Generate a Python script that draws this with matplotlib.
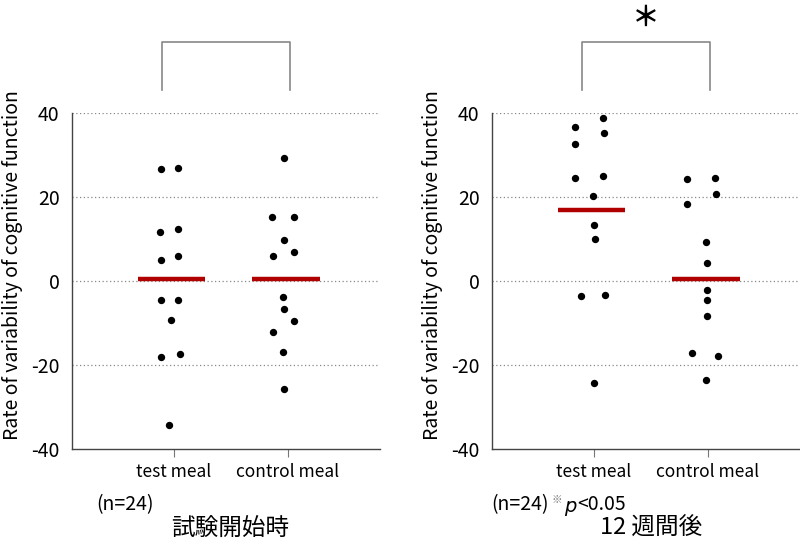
import numpy as np
import matplotlib
matplotlib.use('Agg')
import matplotlib.pyplot as plt

plt.rcParams['font.family'] = ['Noto Sans CJK JP', 'DejaVu Sans']

categories = ['test meal', 'control meal']
ylabel = 'Rate of variability of cognitive function'

# baseline (試験開始時)
base_test = [26.6, 27.0, 11.7, 12.3, 5.1, 5.9, -4.6, -4.6, -9.2, -18.2, -17.4, -34.3]
base_test_dx = [-0.108, 0.038, -0.120, 0.038, -0.108, 0.038, -0.108, 0.038, -0.026, -0.108, 0.053, -0.041]
base_ctrl = [29.2, 15.2, 15.2, 9.7, 5.9, 6.8, -3.8, -6.7, -9.5, -12.2, -16.9, -25.8]
base_ctrl_dx = [-0.032, -0.138, 0.059, -0.032, -0.125, 0.059, -0.044, -0.032, 0.059, -0.125, -0.044, -0.032]
base_means = [0.5, 0.5]

# 12 weeks (12 週間後)
wk12_test = [36.6, 38.7, 35.2, 32.7, 24.6, 25.0, 20.3, 13.3, 9.9, -3.5, -3.4, -24.2]
wk12_test_dx = [-0.164, 0.082, 0.090, -0.164, -0.161, 0.082, -0.003, 0.006, 0.011, -0.114, 0.103, 0.003]
wk12_ctrl = [24.3, 24.6, 20.6, 18.3, 9.3, 4.2, -2.1, -4.5, -8.4, -17.2, -17.9, -23.6]
wk12_ctrl_dx = [-0.182, 0.064, 0.076, -0.182, -0.015, -0.006, -0.006, -0.006, -0.006, -0.140, 0.094, -0.011]
wk12_means = [17.0, 0.5]

W, H = 800, 544
fig = plt.figure(figsize=(W / 100, H / 100), dpi=100)

def px(x, y):
    # pixel position -> figure fraction
    return x / W, 1 - y / H

def panel(x0, groups, means):
    ax = fig.add_axes([x0 / W, (H - 449) / H, 308 / W, 336 / H])
    ax.set_xlim(-0.89, 1.81)
    ax.set_ylim(-40, 40)
    ax.set_yticks([-40, -20, 0, 20, 40])
    ax.set_yticklabels(['-40', '-20', '0', '20', '40'], fontsize=14)
    ax.tick_params(axis='y', length=0, pad=9)
    ax.set_xticks([0, 1])
    ax.set_xticklabels(categories, fontsize=12.5)
    ax.tick_params(axis='x', length=6, color='#777', pad=4)
    for y in [-20, 0, 20, 40]:
        ax.axhline(y, color='#888', lw=0.9, ls=(0, (1, 2)), zorder=0)
    for s in ['top', 'right']:
        ax.spines[s].set_visible(False)
    for s in ['left', 'bottom']:
        ax.spines[s].set_color('#444')
        ax.spines[s].set_linewidth(1.0)
    for i, (vals, dx) in enumerate(groups):
        ax.scatter(np.array(dx) + i, vals, s=28, color='black', zorder=3, linewidths=0)
        ax.plot([i - 0.315, i + 0.28], [means[i], means[i]], color='#b00000', lw=3.2,
                solid_capstyle='butt', zorder=2)
    ax.set_ylabel(ylabel, fontsize=14)
    ax.yaxis.set_label_coords(-49 / 308, 0.548)
    # significance bracket
    ax.plot([-0.098, -0.098, 1.018, 1.018], [45.5, 56.9, 56.9, 45.5], color='#888',
            lw=1.2, clip_on=False)
    return ax

ax1 = panel(72, [(base_test, base_test_dx), (base_ctrl, base_ctrl_dx)], base_means)
ax2 = panel(492, [(wk12_test, wk12_test_dx), (wk12_ctrl, wk12_ctrl_dx)], wk12_means)

fig.text(*px(646, 18), '＊', fontsize=20, ha='center', va='center', fontweight='bold')

fig.text(*px(96, 505), '(n=24)', fontsize=14, ha='left', va='center')
fig.text(*px(230, 528), '試験開始時', fontsize=17, ha='center', va='center')

fig.text(*px(491, 505), '(n=24)', fontsize=14, ha='left', va='center')
fig.text(*px(556.5, 500), '※', fontsize=7.5, ha='center', va='center', color='#777')
fig.text(*px(564, 506), 'p', fontsize=14, ha='left', va='center', style='italic',
         family='DejaVu Sans')
fig.text(*px(577, 505), '<0.05', fontsize=14, ha='left', va='center')
fig.text(*px(651, 528), '12 週間後', fontsize=17, ha='center', va='center')

fig.savefig('out.png', dpi=100)
